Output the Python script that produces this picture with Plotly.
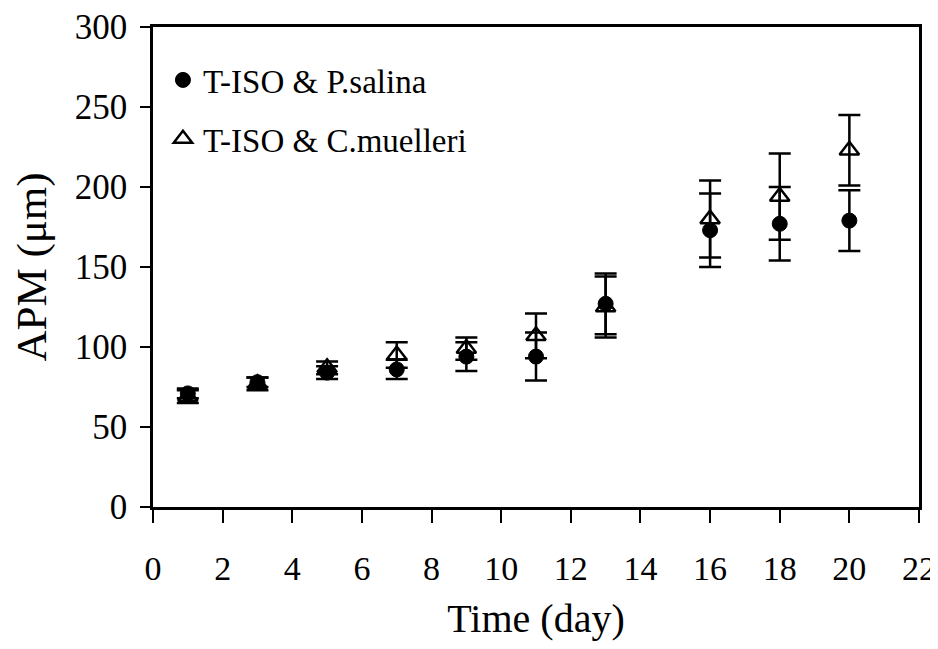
import plotly.graph_objects as go

days = [1, 3, 5, 7, 9, 11, 13, 16, 18, 20]
psalina = [71, 78, 84, 86, 94, 94, 127, 173, 177, 179]
psalina_err = [3, 3, 4, 6, 9, 15, 19, 23, 23, 19]
cmuelleri = [69, 77, 87, 95, 99, 107, 125, 180, 194, 223]
cmuelleri_err = [4, 4, 4, 8, 7, 14, 19, 24, 27, 22]

x_ticks = list(range(0, 23, 2))
y_ticks = list(range(0, 301, 50))

FONT = "Liberation Serif"

fig = go.Figure()
fig.add_trace(go.Scatter(
    x=days, y=psalina, mode="markers", name="T-ISO & P.salina",
    legendgroup="a",
    marker=dict(symbol="circle", size=15, color="black", line=dict(color="black", width=1)),
    error_y=dict(type="data", array=psalina_err, visible=True, color="black", thickness=2.5, width=11),
))
fig.add_trace(go.Scatter(
    x=days, y=cmuelleri, mode="markers", name="T-ISO & C.muelleri",
    legendgroup="b",
    marker=dict(symbol="triangle-up-open", size=17, color="black", line=dict(color="black", width=2.5)),
    error_y=dict(type="data", array=cmuelleri_err, visible=True, color="black", thickness=2.5, width=11),
))

# the page adds an 8 px body margin, so the figure is sized to fit the 938x649 window
fig.update_layout(
    width=930, height=633,
    margin=dict(l=145, r=19, t=19, b=134),
    paper_bgcolor="white", plot_bgcolor="white",
    font=dict(family=FONT, color="black", size=30),
    showlegend=True,
    legend=dict(x=0.013, y=0.948, xanchor="left", yanchor="top",
                font=dict(family=FONT, size=33, color="black"),
                bgcolor="rgba(0,0,0,0)", tracegroupgap=13,
                itemwidth=30),
    xaxis=dict(range=[0, 22], tickvals=x_ticks, ticktext=[str(v) for v in x_ticks],
               automargin=False,
               showgrid=False, zeroline=False, showline=True, linecolor="black", linewidth=2.5,
               mirror=True, ticks="outside", ticklen=13, tickwidth=1.5, tickcolor="black",
               ticklabelstandoff=16,
               tickfont=dict(family=FONT, size=34),
               title=dict(text="Time (day)", font=dict(family=FONT, size=40), standoff=19)),
    yaxis=dict(range=[0, 300], tickvals=y_ticks,
               automargin=False,
               showgrid=False, zeroline=False, showline=True, linecolor="black", linewidth=2.5,
               mirror=True, ticks="outside", ticklen=10, tickwidth=1.5, tickcolor="black",
               ticklabelstandoff=6,
               tickfont=dict(family=FONT, size=35),
               title=dict(text="APM (μm)", font=dict(family=FONT, size=43), standoff=20)),
)

fig.write_html("out.html")
